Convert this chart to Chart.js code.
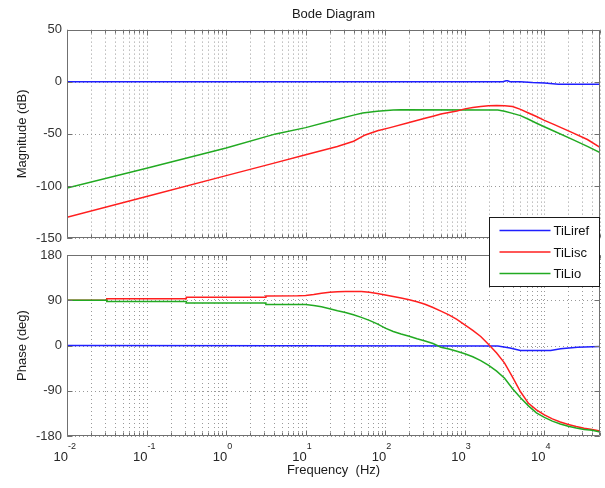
<!DOCTYPE html>
<html>
<head>
<meta charset="utf-8">
<script src="https://cdn.jsdelivr.net/npm/chart.js@4.4.1/dist/chart.umd.min.js"></script>
<style>
  html, body { margin: 0; padding: 0; background: #fff; }
  #wrap { position: relative; width: 605px; height: 488px; overflow: hidden; }
  #magCanvas { position: absolute; left: 0; top: 0; }
  #phaseCanvas { position: absolute; left: 0; top: 206px; }
</style>
</head>
<body>
<div id="wrap">
  <canvas id="magCanvas" width="605" height="251"></canvas>
  <canvas id="phaseCanvas" width="605" height="282"></canvas>
</div>
<script>
// ---- axes ----
const FREQ_MIN = 0.01;
const FREQ_MAX = 50000;
const FREQ_DECADES = [0.01, 0.1, 1, 10, 100, 1000, 10000];
const MAG_TICKS = [50, 0, -50, -100, -150];
const PHASE_TICKS = [180, 90, 0, -90, -180];
const SERIES_NAMES = ['TiLiref', 'TiLisc', 'TiLio'];
const SERIES_COLORS = ['#1f1fff', '#ff1f1f', '#22aa22'];

// ---- magnitude (dB) ----
const refMagFreq = [0.01, 3000, 3300, 3450, 3700, 5000, 7000, 10000, 15000, 50000];
const refMagDb   = [0, 0, 0.9, 0.9, 0, 0, -0.8, -1.3, -2.3, -2.4];

const scMagFreq = [0.01, 0.1, 1, 4, 10, 25, 40, 56, 80, 115, 200, 316, 398, 501, 631, 794, 1000, 1259, 1585, 1995, 2512, 3162, 3981, 5012, 6310, 7943, 10000, 12900, 21400, 34700, 50000];
const scMagDb   = [-130, -110, -90, -78, -70, -62, -57, -51, -47, -44, -39, -35, -33, -31, -29.5, -28, -26, -24.8, -23.8, -23.1, -22.8, -22.9, -23.8, -26.5, -30, -33.3, -37, -40.6, -48, -55.4, -63];

const loMagFreq = [0.01, 0.1, 1, 4.2, 10, 25, 40, 52, 79, 126, 158, 2600, 3162, 3981, 5012, 6310, 8100, 12900, 21400, 34700, 50000];
const loMagDb   = [-102, -83, -63.5, -50, -44, -36, -32, -30, -28.2, -27, -26.8, -27, -28.3, -30.3, -32.5, -36, -40, -47, -54.5, -62, -68];

// ---- phase (deg) ----
const refPhFreq = [0.01, 2600, 3700, 5000, 12000, 16000, 26000, 50000];
const refPhDeg  = [0, -1, -5, -10, -10, -6.6, -3.3, -2];

const scPhFreq = [0.01, 0.0316, 0.0316, 0.316, 0.316, 3.16, 3.16, 7.94, 10, 12.6, 15.8, 20, 25.1, 31.6, 39.8, 50.1, 63.1, 79.4, 100, 126, 158, 200, 251, 316, 398, 501, 631, 794, 1000, 1259, 1585, 1995, 2512, 3162, 3981, 5012, 6310, 7943, 10000, 12589, 15849, 19953, 25119, 31623, 39811, 50000];
const scPhDeg  = [90, 90, 93, 93, 96, 96, 98.5, 99, 99.5, 101.5, 104, 105.8, 106.8, 107.4, 107.6, 107.3, 106, 103.5, 100.5, 97.5, 94.5, 91, 87, 82, 75.5, 68.5, 61, 52, 41, 30, 18, 2, -15, -35, -63, -92, -115, -128, -138, -146, -152, -157, -161, -164.5, -167, -170];

const loPhFreq = [0.01, 0.0316, 0.0316, 0.316, 0.316, 3.16, 3.16, 10, 12.6, 15.8, 20, 25.1, 31.6, 39.8, 50.1, 63.1, 79.4, 100, 126, 158, 200, 251, 316, 398, 501, 631, 794, 1000, 1259, 1585, 1995, 2512, 3162, 3981, 5012, 6310, 7943, 10000, 12589, 15849, 19953, 25119, 31623, 39811, 50000];
const loPhDeg  = [90, 90, 87.5, 87.5, 84.5, 84.5, 81.5, 81.5, 79.5, 77, 73, 69, 65.5, 61, 56, 50, 43, 34.5, 28, 23, 18.5, 13.5, 9, 4, -3.5, -7, -11.5, -16.5, -22.5, -30, -39.6, -51, -65, -86, -104, -120, -134, -143, -150.5, -156, -160.5, -164, -167, -168.5, -172];

const FONT = '"Liberation Sans", Arial, Helvetica, sans-serif';
Chart.defaults.font.family = FONT;
Chart.defaults.font.size = 13;
Chart.defaults.color = '#262626';

function points(freqs, vals) {
  return freqs.map((f, i) => ({ x: f, y: vals[i] }));
}

function lineSet(idx, freqs, vals, order) {
  return {
    label: SERIES_NAMES[idx],
    data: points(freqs, vals),
    borderColor: SERIES_COLORS[idx],
    borderWidth: 1.5,
    pointRadius: 0,
    tension: 0,
    fill: false,
    order: order
  };
}

// minor/major frequency grid positions inside the axis range
const freqGrid = [];
for (let e = -2; e <= 4; e++) {
  for (let k = 1; k <= 9; k++) {
    const f = k * Math.pow(10, e);
    if (f >= FREQ_MIN && f <= FREQ_MAX) freqGrid.push({ f: f, major: k === 1 });
  }
}

// dotted grid, frame, inward ticks, decade labels and legend
const bodeFrame = {
  id: 'bodeFrame',
  beforeDatasetsDraw(chart, args, opts) {
    const { ctx, chartArea: a, scales } = chart;
    const xs = scales.x, ys = scales.y;
    ctx.save();
    ctx.strokeStyle = '#999999';
    ctx.lineWidth = 1;
    ctx.setLineDash([1, 3]);
    ctx.beginPath();
    freqGrid.forEach(g => {
      const px = Math.round(xs.getPixelForValue(g.f)) + 0.5;
      ctx.moveTo(px, a.top);
      ctx.lineTo(px, a.bottom);
    });
    opts.yTicks.forEach(v => {
      const py = Math.round(ys.getPixelForValue(v)) + 0.5;
      ctx.moveTo(a.left, py);
      ctx.lineTo(a.right, py);
    });
    ctx.stroke();
    ctx.restore();
  },
  afterDatasetsDraw(chart, args, opts) {
    const { ctx, chartArea: a, scales } = chart;
    const xs = scales.x, ys = scales.y;
    const L = Math.round(a.left) + 0.5, R = Math.round(a.right) - 0.5;
    const T = Math.round(a.top) + 0.5, B = Math.round(a.bottom) - 0.5;
    ctx.save();
    ctx.setLineDash([]);
    ctx.strokeStyle = '#707070';
    ctx.lineWidth = 1;
    ctx.beginPath();
    ctx.rect(L, T, R - L, B - T);
    freqGrid.forEach(g => {
      const px = Math.round(xs.getPixelForValue(g.f)) + 0.5;
      const len = g.major ? 5 : 3;
      ctx.moveTo(px, B); ctx.lineTo(px, B - len);
      ctx.moveTo(px, T); ctx.lineTo(px, T + len);
    });
    opts.yTicks.forEach(v => {
      const py = Math.round(ys.getPixelForValue(v)) + 0.5;
      ctx.moveTo(L, py); ctx.lineTo(L + 5, py);
      ctx.moveTo(R, py); ctx.lineTo(R - 5, py);
    });
    ctx.stroke();

    if (opts.decadeLabels) {
      ctx.fillStyle = '#262626';
      FREQ_DECADES.forEach(f => {
        const px = xs.getPixelForValue(f);
        const exp = String(Math.round(Math.log10(f)));
        ctx.font = '13px ' + FONT;
        ctx.textAlign = 'right';
        ctx.textBaseline = 'middle';
        ctx.fillText('10', px + 1, a.bottom + 21);
        ctx.font = '9px ' + FONT;
        ctx.textAlign = 'left';
        ctx.fillText(exp, px + 1, a.bottom + 11);
      });
    }
    ctx.restore();
  },
  afterDraw(chart, args, opts) {
    if (!opts.legend) return;
    const { ctx, chartArea: a } = chart;
    const w = 110, h = 69;
    const x0 = Math.round(a.right) - w - 0.5;
    const y0 = Math.round(a.top) - 38 + 0.5;
    ctx.save();
    ctx.fillStyle = '#ffffff';
    ctx.fillRect(x0, y0, w, h);
    ctx.strokeStyle = '#1a1a1a';
    ctx.lineWidth = 1;
    ctx.strokeRect(x0, y0, w, h);
    ctx.font = '13px ' + FONT;
    ctx.textAlign = 'left';
    ctx.textBaseline = 'middle';
    SERIES_NAMES.forEach((name, i) => {
      const yy = y0 + 13 + i * 21.5;
      ctx.strokeStyle = SERIES_COLORS[i];
      ctx.lineWidth = 1.5;
      ctx.beginPath();
      ctx.moveTo(x0 + 10, yy);
      ctx.lineTo(x0 + 61, yy);
      ctx.stroke();
      ctx.fillStyle = '#111';
      ctx.fillText(name, x0 + 64, yy + 1);
    });
    ctx.restore();
  }
};

function xAxis(height, title) {
  return {
    type: 'logarithmic',
    min: FREQ_MIN,
    max: FREQ_MAX,
    grid: { display: false, drawTicks: false },
    border: { display: false },
    ticks: { display: false },
    title: title ? {
      display: true, text: title, color: '#1a1a1a',
      font: { size: 13 }, padding: { top: 0, bottom: 10 }
    } : { display: false },
    afterFit(scale) { scale.height = height; }
  };
}

function yAxis(min, max, step, title) {
  return {
    type: 'linear',
    min: min,
    max: max,
    grid: { display: false, drawTicks: false },
    border: { display: false },
    ticks: { stepSize: step, padding: 5, color: '#333', font: { size: 13 } },
    title: {
      display: true, text: title, color: '#1a1a1a',
      font: { size: 13 }, padding: { top: 15, bottom: 0 }
    },
    afterFit(scale) { scale.width = 67; }
  };
}

new Chart(document.getElementById('magCanvas'), {
  type: 'line',
  data: {
    datasets: [
      lineSet(0, refMagFreq, refMagDb, 2),
      lineSet(1, scMagFreq, scMagDb, 0),
      lineSet(2, loMagFreq, loMagDb, 1)
    ]
  },
  options: {
    responsive: false,
    animation: false,
    devicePixelRatio: 1,
    layout: { padding: { left: 0, right: 5, top: 0, bottom: 0 } },
    scales: {
      x: xAxis(8, null),
      y: yAxis(-150, 50, 50, 'Magnitude (dB)')
    },
    plugins: {
      legend: { display: false },
      tooltip: { enabled: false },
      title: {
        display: true, text: 'Bode Diagram', fullSize: false, color: '#1a1a1a',
        font: { size: 13, weight: 'normal' }, padding: { top: 7, bottom: 7 }
      },
      bodeFrame: { yTicks: MAG_TICKS, decadeLabels: false, legend: false }
    }
  },
  plugins: [bodeFrame]
});

new Chart(document.getElementById('phaseCanvas'), {
  type: 'line',
  data: {
    datasets: [
      lineSet(0, refPhFreq, refPhDeg, 2),
      lineSet(1, scPhFreq, scPhDeg, 1),
      lineSet(2, loPhFreq, loPhDeg, 0)
    ]
  },
  options: {
    responsive: false,
    animation: false,
    devicePixelRatio: 1,
    layout: { padding: { left: 0, right: 5, top: 49, bottom: 0 } },
    scales: {
      x: xAxis(52, 'Frequency  (Hz)'),
      y: yAxis(-180, 180, 90, 'Phase (deg)')
    },
    plugins: {
      legend: { display: false },
      tooltip: { enabled: false },
      bodeFrame: { yTicks: PHASE_TICKS, decadeLabels: true, legend: true }
    }
  },
  plugins: [bodeFrame]
});
</script>
</body>
</html>
